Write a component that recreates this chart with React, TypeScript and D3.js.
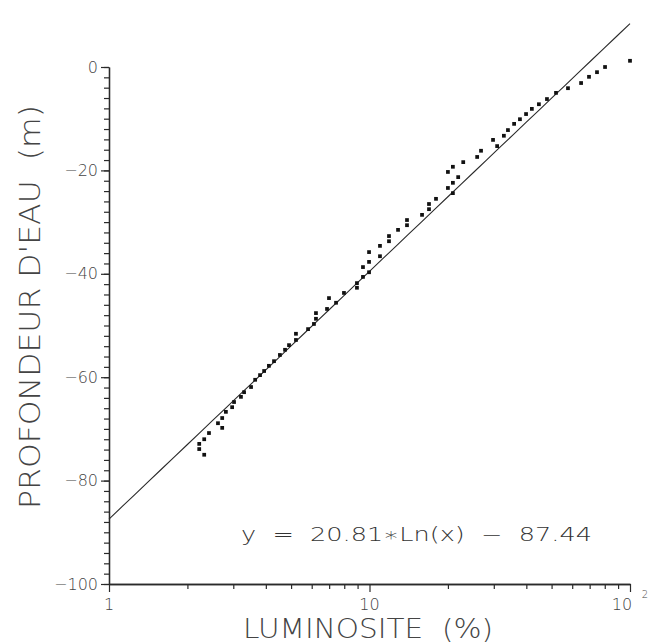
import React, { useEffect, useRef } from 'react'
import * as d3 from 'd3'

// luminosite (%), profondeur (m) off the linear one
const luminosite = [
  2.22, 2.22, 2.32, 2.32, 2.42, 2.62, 2.72, 2.72, 2.81, 2.97,
  3.02, 3.21, 3.3, 3.51, 3.64, 3.8, 3.94, 4.11, 4.3, 4.53,
  4.74, 4.91, 5.22, 5.22, 5.81, 6.12, 6.23, 6.23, 6.87, 6.99,
  7.44, 7.98, 8.95, 8.95, 9.44, 9.44, 9.96, 9.96, 9.96, 10.97,
  10.97, 11.88, 11.88, 12.87, 13.93, 13.93, 15.91, 16.92, 16.92, 18.0,
  20.0, 20.0, 20.9, 20.9, 20.9, 21.9, 22.9, 25.9, 26.8, 29.8,
  30.9, 32.8, 34.0, 35.9, 37.8, 39.9, 42.0, 44.7, 48.0, 52.0,
  57.8, 64.9, 69.6, 74.7, 80.2, 100
]
const profondeur = [
  -72.9, -73.9, -72.0, -75.0, -70.8, -68.9, -69.8, -67.9, -66.7, -65.8,
  -64.8, -63.8, -62.9, -61.9, -60.5, -59.6, -58.8, -57.8, -56.9, -55.7,
  -54.7, -53.8, -52.8, -51.6, -50.7, -49.7, -48.7, -47.6, -46.8, -44.7,
  -45.6, -43.7, -41.8, -42.7, -40.6, -38.7, -39.7, -37.7, -35.8, -36.6,
  -34.6, -33.7, -32.7, -31.5, -30.6, -29.6, -28.6, -27.5, -26.5, -25.5,
  -23.4, -20.3, -24.4, -22.4, -19.3, -21.3, -18.4, -17.4, -16.2, -14.1,
  -15.3, -13.3, -12.2, -11.0, -10.1, -9.1, -8.1, -7.2, -6.2, -5.0,
  -4.1, -3.1, -1.9, -1.0, 0.0, 1.2
]

const yMajor = [0, -20, -40, -60, -80, -100]
const yMinor = d3.range(-100, 1, 2)
const xMajor = [1, 10, 100]
const xMinor = [2, 3, 4, 5, 6, 7, 8, 9, 20, 30, 40, 50, 60, 70, 80, 90]

const slope = 20.81
const intercept = -87.44
const equation = 'y  =  20.81\u2217Ln(x)  \u2212  87.44'
const xTitle = 'LUMINOSITE  (%)'
const yTitle = "PROFONDEUR D'EAU  (m)"

const W = 648, H = 643
const font = "'DejaVu Sans', 'Open Sans', sans-serif"
const ink = '#2a2a2a'

export default function App() {
  const ref = useRef<SVGSVGElement>(null)

  useEffect(() => {
    const svg = d3.select(ref.current)
    svg.selectAll('*').remove()

    const x = d3.scaleLog().domain([1, 100]).range([109, 630])
    const y = d3.scaleLinear().domain([-100, 0]).range([584, 67])

    // y axis: minor ticks every 2 m, labelled every 20
    const gy = svg.append('g').attr('transform', 'translate(' + x(1) + ',0)')
    gy.call(d3.axisLeft(y).tickValues(yMinor).tickSize(5).tickSizeOuter(0).tickFormat(() => ''))
    gy.append('g').call(
      d3.axisLeft(y).tickValues(yMajor).tickSize(8).tickSizeOuter(0).tickPadding(3)
        .tickFormat(d => (+d === 0 ? '0' : '\u2212' + Math.abs(+d)))
    )
    gy.selectAll('path').attr('stroke', ink).attr('stroke-width', 1.3)
    gy.selectAll('line').attr('stroke', ink).attr('stroke-width', 1.2)
    gy.selectAll('text')
      .attr('font-family', font).attr('font-weight', 200)
      .attr('font-size', 16).attr('fill', '#444')

    // x axis (log)
    const gx = svg.append('g').attr('transform', 'translate(0,' + y(-100) + ')')
    gx.call(d3.axisBottom(x).tickValues(xMinor).tickSize(5).tickSizeOuter(0).tickFormat(() => ''))
    gx.append('g').call(d3.axisBottom(x).tickValues(xMajor).tickSize(8).tickSizeOuter(0).tickFormat(() => ''))
    gx.selectAll('path').attr('stroke', ink).attr('stroke-width', 1.6)
    gx.selectAll('line').attr('stroke', ink).attr('stroke-width', 1.2)

    const xl = svg.append('g')
      .attr('font-family', font).attr('font-weight', 200)
      .attr('fill', '#444').attr('font-size', 16)
    xl.append('text').attr('x', x(1)).attr('y', 610).attr('text-anchor', 'middle').text('1')
    xl.append('text').attr('x', x(10)).attr('y', 610).attr('text-anchor', 'middle').text('10')
    xl.append('text').attr('x', x(100) - 8).attr('y', 610).attr('text-anchor', 'middle').text('10')
    xl.append('text').attr('x', x(100) + 15).attr('y', 598).attr('text-anchor', 'middle')
      .attr('font-size', 10).text('2')

    // regression line
    const fit = d3.range(0, 2.001, 0.05).map(e => Math.pow(10, e))
    svg.append('path')
      .datum(fit)
      .attr('fill', 'none').attr('stroke', ink).attr('stroke-width', 1.1)
      .attr('d', d3.line<number>().x(d => x(d)).y(d => y(slope * Math.log(d) + intercept)))

    // points
    const sym = d3.symbol().type(d3.symbolSquare).size(14)
    svg.append('g').selectAll('path')
      .data(luminosite.map((l, i) => [l, profondeur[i]]))
      .enter()
      .append('path')
      .attr('d', sym)
      .attr('transform', d => 'translate(' + x(d[0]) + ',' + y(d[1]) + ')')
      .attr('fill', '#111')

    // texts
    svg.append('text')
      .attr('x', 241).attr('y', 541)
      .attr('font-family', font).attr('font-weight', 200).attr('font-size', 19)
      .attr('fill', '#333').attr('xml:space', 'preserve')
      .attr('textLength', 351).attr('lengthAdjust', 'spacingAndGlyphs')
      .text(equation)

    svg.append('text')
      .attr('x', 243).attr('y', 638)
      .attr('font-family', font).attr('font-weight', 200).attr('font-size', 26)
      .attr('fill', '#444').attr('xml:space', 'preserve')
      .attr('textLength', 250).attr('lengthAdjust', 'spacingAndGlyphs')
      .text(xTitle)

    svg.append('text')
      .attr('transform', 'translate(40,509) rotate(-90)')
      .attr('font-family', font).attr('font-weight', 200).attr('font-size', 28)
      .attr('fill', '#444').attr('xml:space', 'preserve')
      .attr('textLength', 404).attr('lengthAdjust', 'spacingAndGlyphs')
      .text(yTitle)
  }, [])

  return (
    <svg ref={ref} width={W} height={H}
      style={{ position: 'absolute', left: 0, top: 0, background: '#fff' }} />
  )
}
